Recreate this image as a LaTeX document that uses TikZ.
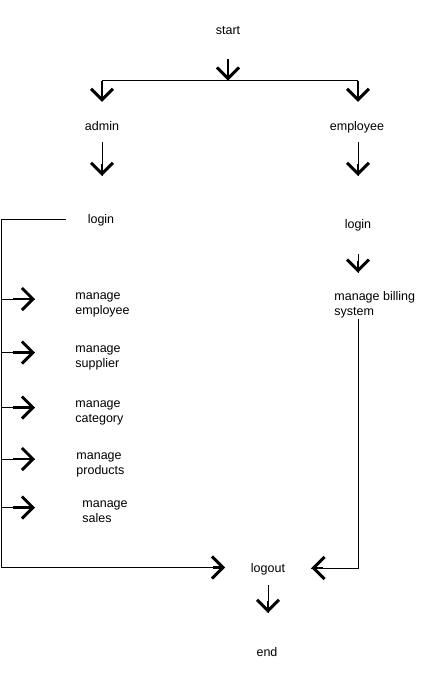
\documentclass[tikz,border=0pt]{standalone}
\usepackage{fontspec}
\setmainfont{Liberation Sans}
\usetikzlibrary{arrows.meta,positioning,decorations.markings}
\tikzset{every picture/.style={line width=0.9pt}}
\tikzstyle{txt}=[font=\fontsize{12.5}{15}\selectfont,text height=10.5pt,text depth=1pt,inner sep=1pt]
\tikzstyle{mng}=[font=\fontsize{12.5}{15}\selectfont,align=left,inner sep=0pt,anchor=base west]
\tikzstyle{fat}=[line width=2.9pt,shorten <=0pt,shorten >=0pt,-{Straight Barb[length=11pt,width=22pt]}]
\tikzset{go/.style={shorten >=#1,postaction={decorate,decoration={markings,mark=at position -#1 with {\draw[fat] (-12pt,0) -- (0,0);}}}}}
\tikzset{br/.style={shorten >=#1,postaction={draw,line width=2.9pt,shorten <=12pt,-{Straight Barb[length=11pt,width=22pt]}}}}

\begin{document}
\begin{tikzpicture}[x=1pt,y=1pt]
\useasboundingbox (0,0) rectangle (433,-681);
\node[txt] (start) at (228,-30) {start};
\node[txt] (admin) at (102,-126) {admin};
\node[txt] (emp) at (357,-126) {employee};
\node[txt] (loginA) at (101,-219) {login};
\node[txt] (loginE) at (358,-224) {login};
\node[mng] (memp) at (75,-314) {manage\\employee};
\node[mng] (msup) at (75,-367.5) {manage\\supplier};
\node[mng] (mcat) at (75,-422.5) {manage\\category};
\node[mng] (mprod) at (76,-474) {manage\\products};
\node[mng] (msales) at (82,-522.5) {manage\\sales};
\node[mng] (bill) at (334,-315.5) {manage billing\\system};
\node[txt] (logout) at (268,-567.5) {logout};
\node[txt] (end) at (267,-652) {end};
\coordinate (split) at (228,-80.5);
\coordinate (splitL) at (102,-80.5);
\coordinate (splitR) at (358,-80.5);
\coordinate (busT) at (1,-219);
\coordinate (busB) at (1,-567.5);
\coordinate (billC) at (358,-568);
% top fork
\draw[fat,shorten <=22pt] (start) -- (split);
\draw (splitL) -- (splitR);
\draw[fat,shorten >=17pt] (splitL) -- (admin);
\draw[fat,shorten >=17pt] (splitR) -- (splitR |- emp.north);
\draw[go=36pt,shorten <=9pt] (admin) -- (admin |- loginA.north);
\draw[go=41pt,shorten <=9pt] (loginE |- emp.south) -- (loginE);
% admin side
\draw[go=24.5pt,shorten <=20pt] (loginA.west) -- (busT) -- (busB) -- (busB -| logout.west);
\draw[br=40pt] (busT |- memp.base west) ++(0,15) -- ([yshift=15pt]memp.base west);
\draw[br=40pt] (busT |- msup.base west) ++(0,15) -- ([yshift=15pt]msup.base west);
\draw[br=40pt] (busT |- mcat.base west) ++(0,15) -- ([yshift=15pt]mcat.base west);
\draw[br=41pt] (busT |- mprod.base west) ++(0,15) -- ([yshift=15pt]mprod.base west);
\draw[br=47pt] (busT |- msales.base west) ++(0,15) -- ([yshift=15pt]msales.base west);
% employee side
\draw[go=18.4pt,shorten <=23pt] (loginE) -- (loginE |- bill.north);
\draw[go=25pt] (bill.south -| billC) -- (billC) -- (billC -| logout.east);
\draw[go=32pt,shorten <=10.5pt] (logout) -- (logout |- end.north);
\end{tikzpicture}
\end{document}
